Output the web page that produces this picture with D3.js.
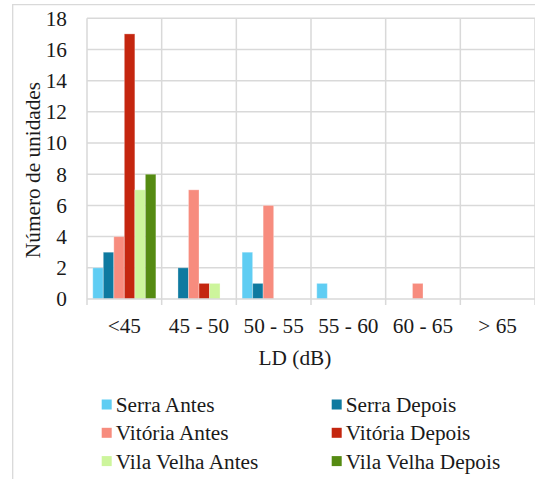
<!DOCTYPE html>
<html>
<head>
<meta charset="utf-8">
<script src="https://cdn.jsdelivr.net/npm/d3@7"></script>
</head>
<body style="margin:0">
<svg id="chart" width="535" height="479" style="display:block"></svg>
<script>
// Faixas de nível sonoro (LD) e contagens de unidades por município
const categories = ["<45", "45 - 50", "50 - 55", "55 - 60", "60 - 65", "> 65"];
const seriesNames = ["Serra Antes", "Serra Depois", "Vitória Antes", "Vitória Depois", "Vila Velha Antes", "Vila Velha Depois"];
const serraAntes      = [2, 0, 3, 1, 0, 0];
const serraDepois     = [3, 2, 1, 0, 0, 0];
const vitoriaAntes    = [4, 7, 6, 0, 1, 0];
const vitoriaDepois   = [17, 1, 0, 0, 0, 0];
const vilaVelhaAntes  = [7, 1, 0, 0, 0, 0];
const vilaVelhaDepois = [8, 0, 0, 0, 0, 0];
const yTicks = [0, 2, 4, 6, 8, 10, 12, 14, 16, 18];
const colors = ["#5fcdf3", "#0e7aa0", "#f78c7e", "#c4260f", "#cdf59c", "#558b12"];

const seriesValues = [serraAntes, serraDepois, vitoriaAntes, vitoriaDepois, vilaVelhaAntes, vilaVelhaDepois];

const FONT = "Liberation Serif";
const FSIZE = "21.3px";
const INK = "#1a1a1a";
const svg = d3.select("#chart").attr("font-family", FONT);
const plot = { left: 87, right: 535, top: 18.3, bottom: 299 };
const grid = "#d9d9d9";

function textStyle(sel) {
  return sel.style("font-family", `"${FONT}"`).style("font-size", FSIZE).style("fill", INK);
}

// Moldura externa do gráfico
svg.append("path")
  .attr("d", "M12.7,479 V4.7 H535")
  .attr("fill", "none").attr("stroke", grid).attr("stroke-width", 1.3);

const x = d3.scaleBand().domain(categories).range([plot.left, plot.right]).paddingInner(0).paddingOuter(0);
const x1 = d3.scaleBand().domain(seriesNames).range([0, x.bandwidth()]).paddingOuter(0.55).paddingInner(0);
const y = d3.scaleLinear().domain([0, 18]).range([plot.bottom, plot.top]);

// Linhas de grade horizontais
svg.append("g").selectAll("line").data(yTicks.filter(t => t > 0)).join("line")
  .attr("x1", plot.left).attr("x2", plot.right)
  .attr("y1", d => y(d)).attr("y2", d => y(d))
  .attr("stroke", grid).attr("stroke-width", 1.5);

// Linhas de grade verticais nas divisões das faixas, com marcas abaixo do eixo
const bounds = categories.map(c => x(c)).concat([plot.right]);
svg.append("g").selectAll("line").data(bounds).join("line")
  .attr("x1", d => d).attr("x2", d => d)
  .attr("y1", plot.top).attr("y2", plot.bottom + 6)
  .attr("stroke", grid).attr("stroke-width", 1.5);

// Eixo Y
const yAxis = svg.append("g").attr("transform", `translate(${plot.left - 20},0)`)
  .call(d3.axisLeft(y).tickValues(yTicks).tickSize(0).tickPadding(0))
  .attr("font-family", FONT).attr("font-size", 21.3);
yAxis.select(".domain").remove();
textStyle(yAxis.selectAll("text")).attr("fill", null);

// Eixo X
const xAxis = svg.append("g").attr("transform", `translate(0,${plot.bottom})`)
  .call(d3.axisBottom(x).tickSize(0).tickPadding(19))
  .attr("font-family", FONT).attr("font-size", 21.3);
xAxis.select(".domain").remove();
textStyle(xAxis.selectAll("text")).attr("fill", null);

// Barras agrupadas
const groups = svg.append("g").selectAll("g").data(categories).join("g")
  .attr("transform", c => `translate(${x(c)},0)`);
groups.selectAll("rect")
  .data((c, i) => seriesNames.map((s, k) => ({ s, k, v: seriesValues[k][i] })).filter(d => d.v > 0))
  .join("rect")
  .attr("x", d => x1(d.s))
  .attr("width", x1.bandwidth())
  .attr("y", d => y(d.v))
  .attr("height", d => y(0) - y(d.v))
  .attr("fill", d => colors[d.k])
  .attr("stroke", "rgba(255,255,255,0.3)").attr("stroke-width", 1);

// Linha de base (zero) sobre as barras
svg.append("line")
  .attr("x1", plot.left).attr("x2", plot.right)
  .attr("y1", y(0)).attr("y2", y(0))
  .attr("stroke", grid).attr("stroke-width", 1.5);

// Títulos dos eixos
textStyle(svg.append("text"))
  .attr("transform", "translate(40,170) rotate(-90)")
  .attr("text-anchor", "middle")
  .text("Número de unidades");
textStyle(svg.append("text"))
  .attr("x", 295).attr("y", 365)
  .attr("text-anchor", "middle")
  .text("LD (dB)");

// Legenda em duas colunas
const legend = svg.append("g");
const items = legend.selectAll("g").data(seriesNames).join("g")
  .attr("transform", (d, i) => `translate(${i % 2 === 0 ? 101.7 : 331.7},${404.5 + Math.floor(i / 2) * 28.3})`);
items.append("rect")
  .attr("x", 0).attr("y", -5).attr("width", 10).attr("height", 10)
  .attr("fill", (d, i) => colors[i]);
textStyle(items.append("text"))
  .attr("x", 14).attr("y", 7.5)
  .text(d => d);
</script>
</body>
</html>
